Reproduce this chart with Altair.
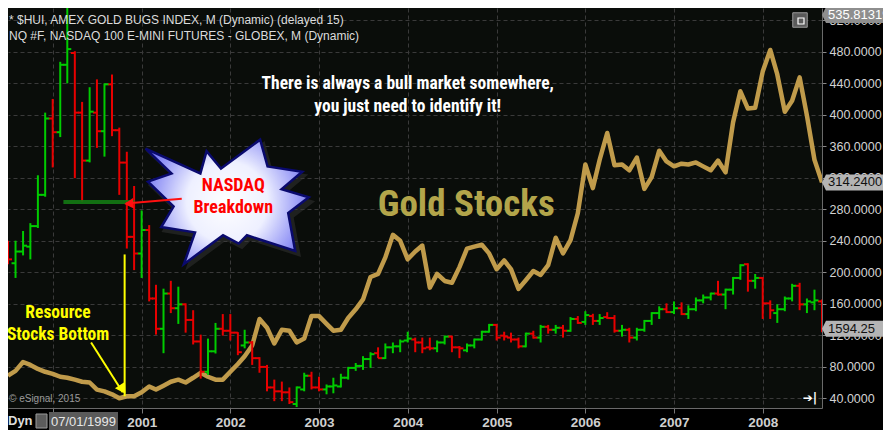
import altair as alt
import pandas as pd

# ---------------- data ----------------
START_MONTH = "1999-07-01"

# $HUI monthly closes, Jul 1999 .. Sep 2008
hui_close = [68.6, 74.8, 86.0, 82.3, 77.3, 73.6, 71.0, 67.3, 66.0, 63.6,
             61.0, 60.0, 51.0, 48.7, 45.0, 40.0, 42.5, 42.5, 47.5, 55.0,
             51.0, 56.0, 61.0, 63.6, 60.0, 66.0, 72.3, 67.3, 63.6, 63.6,
             73.6, 83.5, 93.4, 107.0, 140.7, 129.5, 109.6, 127.0, 125.8, 110.9,
             115.8, 144.4, 144.4, 134.5, 125.8, 127.0, 142.0, 153.0, 165.5, 194.0,
             198.0, 219.0, 247.6, 240.0, 216.5, 226.5, 234.0, 180.5, 198.0, 189.0,
             186.7, 206.6, 230.0, 232.7, 235.0, 224.0, 204.0, 215.0, 204.0, 179.0,
             190.0, 201.6, 196.6, 209.0, 243.9, 224.0, 241.0, 275.0, 337.0, 307.0,
             343.0, 377.0, 336.0, 337.0, 329.6, 345.8, 306.0, 321.0, 354.5, 340.8,
             334.6, 338.0, 337.0, 339.6, 334.6, 329.6, 342.0, 327.0, 390.5, 430.0,
             408.0, 409.0, 455.0, 482.5, 451.4, 404.0, 418.0, 447.7, 399.0, 343.0,
             314.24]

# NQ #F monthly OHLC, Jul 1999 .. Sep 2008
nq_open = [2412, 2254, 2372, 2421, 2628, 2943, 3712, 3574, 4253, 4372,
           3771, 3288, 3771, 3584, 4056, 3594, 3268, 2520, 2352, 2589,
           1899, 1594, 1949, 1801, 1840, 1683, 1466, 1161, 1367, 1594,
           1574, 1555, 1426, 1456, 1298, 1210, 1003, 964, 954, 836,
           983, 1121, 1003, 983, 1013, 1013, 1101, 1200, 1220, 1289,
           1348, 1298, 1407, 1417, 1476, 1486, 1456, 1407, 1397, 1456,
           1515, 1407, 1377, 1426, 1486, 1564, 1633, 1525, 1505, 1486,
           1417, 1545, 1505, 1614, 1584, 1604, 1574, 1693, 1663, 1722,
           1673, 1712, 1702, 1574, 1584, 1505, 1584, 1673, 1752, 1791,
           1762, 1801, 1742, 1791, 1880, 1909, 1949, 1939, 1988, 2106,
           2244, 2077, 2106, 1850, 1752, 1791, 1899, 2027, 1840, 1860,
           1870]
nq_high = [2481, 2481, 2579, 2658, 3140, 3771, 3909, 4283, 4825, 4390,
           3879, 4027, 4106, 4066, 4155, 3620, 3377, 3032, 2786, 2638,
           2037, 1998, 2077, 2018, 1850, 1781, 1535, 1495, 1653, 1742,
           1742, 1560, 1584, 1470, 1308, 1230, 1082, 1062, 1003, 1013,
           1151, 1161, 1111, 1033, 1101, 1141, 1210, 1249, 1318, 1358,
           1407, 1446, 1456, 1486, 1564, 1505, 1505, 1505, 1476, 1525,
           1525, 1420, 1446, 1495, 1574, 1643, 1643, 1564, 1555, 1505,
           1555, 1574, 1633, 1633, 1633, 1633, 1712, 1722, 1771, 1745,
           1742, 1761, 1732, 1633, 1604, 1604, 1683, 1761, 1820, 1850,
           1870, 1860, 1830, 1909, 1939, 1958, 2077, 1998, 2116, 2244,
           2254, 2146, 2115, 1880, 1840, 1919, 2047, 2057, 1899, 1988,
           1890]
nq_low = [2244, 2106, 2333, 2293, 2609, 2924, 3219, 3525, 4066, 3111,
          2874, 3270, 3416, 3328, 3534, 2943, 2402, 2185, 2106, 1870,
          1535, 1348, 1752, 1643, 1555, 1436, 1092, 1130, 1345, 1525,
          1476, 1328, 1397, 1230, 1151, 964, 865, 865, 836, 806,
          964, 983, 964, 934, 944, 1003, 1082, 1170, 1180, 1200,
          1298, 1290, 1348, 1358, 1456, 1358, 1348, 1377, 1358, 1436,
          1358, 1298, 1358, 1397, 1476, 1555, 1476, 1476, 1456, 1397,
          1407, 1495, 1456, 1545, 1545, 1505, 1564, 1643, 1633, 1633,
          1633, 1693, 1555, 1515, 1456, 1476, 1564, 1633, 1693, 1752,
          1742, 1732, 1693, 1771, 1850, 1880, 1929, 1791, 1939, 2087,
          1968, 1998, 1693, 1693, 1653, 1771, 1870, 1781, 1752, 1781,
          1560]
nq_close = [2293, 2372, 2431, 2628, 2943, 3712, 3574, 4253, 4411, 3771,
            3288, 3781, 3584, 4056, 3594, 3268, 2520, 2352, 2589, 1899,
            1594, 1949, 1801, 1840, 1683, 1466, 1161, 1367, 1594, 1574,
            1555, 1358, 1456, 1298, 1210, 1003, 964, 954, 855, 1003,
            1121, 1003, 983, 1013, 1023, 1101, 1200, 1220, 1289, 1338,
            1298, 1407, 1417, 1466, 1495, 1456, 1397, 1397, 1456, 1515,
            1407, 1397, 1426, 1486, 1564, 1633, 1505, 1515, 1486, 1417,
            1545, 1505, 1614, 1584, 1604, 1574, 1693, 1653, 1732, 1673,
            1702, 1702, 1574, 1584, 1505, 1584, 1673, 1752, 1791, 1762,
            1801, 1742, 1791, 1880, 1909, 1949, 1939, 1988, 2106, 2234,
            2077, 2106, 1850, 1780, 1791, 1899, 2027, 1840, 1870, 1880,
            1594.25]

hui_ticks = [40, 80, 120, 160, 200, 240, 280, 320, 360, 400, 440, 480, 520]
year_ticks = [2000, 2001, 2002, 2003, 2004, 2005, 2006, 2007, 2008]
hui_last = 314.24
hui_top_label = "535.81319"
nq_last = 1594.25
nq_support = 2870

header_lines = ["* $HUI, AMEX GOLD BUGS INDEX, M (Dynamic) (delayed 15)",
                "NQ #F, NASDAQ 100 E-MINI FUTURES - GLOBEX, M (Dynamic)"]

# annotations, positioned in data units (date, HUI value)
notes = pd.DataFrame([
    {"t": "There is always a bull market somewhere,", "d": "2004-01-01", "v": 439.0, "g": "quote"},
    {"t": "you just need to identify it!", "d": "2004-01-01", "v": 410.4, "g": "quote"},
    {"t": "NASDAQ", "d": "2002-01-13", "v": 309.7, "g": "nasdaq"},
    {"t": "Breakdown", "d": "2002-01-13", "v": 281.1, "g": "nasdaq"},
    {"t": "Resource", "d": "2000-01-23", "v": 148.1, "g": "bottom"},
    {"t": "Stocks Bottom", "d": "2000-01-23", "v": 120.8, "g": "bottom"},
    {"t": "Gold Stocks", "d": "2004-08-29", "v": 284.9, "g": "gold"},
])
arrows = pd.DataFrame([
    {"k": "red", "d1": "2001-06-15", "v1": 293.6, "d2": "2000-10-28", "v2": 287.3},
    {"k": "yv", "d1": "2000-10-23", "v1": 222.7, "d2": "2000-10-23", "v2": 42.5},
    {"k": "yd", "d1": "2000-06-07", "v1": 110.9, "d2": "2000-10-15", "v2": 47.5},
])
star_pos = pd.DataFrame([{"d": "2001-12-19", "v": 290.0}])
support = pd.DataFrame([{"d1": "2000-02-14", "d2": "2000-12-03", "v": nq_support}])

# ---------------- layout / style ----------------
W, H = 814, 400
GOLD = "#c09b4b"
GOLD_TEXT = "#b3a54a"
GREEN = "#00cc00"
RED = "#e80000"
NARROW = "Roboto Condensed, Liberation Sans Narrow, DejaVu Sans Condensed, sans-serif"
SANS = "Liberation Sans, Arial, sans-serif"

dates = pd.date_range(START_MONTH, periods=len(hui_close), freq="MS").strftime("%Y-%m-%d").tolist()
bars = pd.DataFrame({"date": dates, "hui": hui_close, "open": nq_open,
                     "high": nq_high, "low": nq_low, "close": nq_close})
bars["dir"] = ["up" if c >= o else "down" for o, c in zip(nq_open, nq_close)]


def dt(s):
    y, m, d = (int(p) for p in s.split("-"))
    return alt.DateTime(year=y, month=m, date=d, utc=True)


x_scale = alt.Scale(type="utc", domain=[dt("1999-07-01"), dt("2008-09-01")], nice=False)
gold_scale = alt.Scale(domain=[27.6, 535.8], nice=False, zero=False)
nq_scale = alt.Scale(domain=[796, 4825], nice=False, zero=False)

GRID = "#3a3a3a"
x_axis = alt.Axis(values=[dt(f"{y}-01-01") for y in year_ticks],
                  labelExpr="utcyear(datum.value) == 2000 ? '' : utcFormat(datum.value, '%Y')",
                  labelFont=SANS, labelFontWeight="bold", labelFontSize=13.5, labelColor="#cfcfcf",
                  tickColor="#777777", tickSize=5, domainColor="#6a6a6a", labelPadding=2,
                  grid=True, gridColor=GRID, gridDash=[4, 3], title=None, labelFlush=False)
y_axis = alt.Axis(orient="right", values=hui_ticks, format=".4f",
                  labelFont=SANS, labelFontSize=12.5, labelColor="#d2d2d2",
                  tickColor="#888888", tickSize=4, labelPadding=3, domainColor="#6a6a6a",
                  grid=True, gridColor=GRID, gridDash=[4, 3], title=None)


def X(f):
    return alt.X(f"{f}:T", scale=x_scale, axis=x_axis, title=None)


def YG(f, axis=None):
    return alt.Y(f"{f}:Q", scale=gold_scale, axis=axis, title=None)


def YN(f):
    return alt.Y(f"{f}:Q", scale=nq_scale, axis=None, title=None)


COLOR = alt.Color("dir:N", scale=alt.Scale(domain=["up", "down"], range=[GREEN, RED]), legend=None)

# ---------------- gold line ----------------
gold_line = alt.Chart(bars).mark_line(color=GOLD, strokeWidth=4.5, clip=True,
                                      strokeJoin="round").encode(
    x=X("date"), y=YG("hui", y_axis))

# ---------------- NQ OHLC bars ----------------
nqb = alt.Chart(bars)
hl = nqb.mark_rule(strokeWidth=2, clip=True).encode(x=X("date"), y=YN("low"), y2="high:Q", color=COLOR)
op = nqb.mark_rule(strokeWidth=2, clip=True, xOffset=-4).encode(
    x=X("date"), x2=alt.X2("date"), y=YN("open"), color=COLOR)
cl = nqb.mark_rule(strokeWidth=2, clip=True, x2Offset=4).encode(
    x=X("date"), x2=alt.X2("date"), y=YN("close"), color=COLOR)
sup = alt.Chart(support).mark_rule(color="#137a13", strokeWidth=4, opacity=0.9).encode(
    x=X("d1"), x2=alt.X2("d2"), y=YN("v"))

BOX = "M -1 0 L -0.875 -0.25 L 1 -0.25 L 1 0.25 L -0.875 0.25 Z"
nq_lab = pd.DataFrame([{"v": nq_last, "t": f"{nq_last:.2f}"}])
nq_box = alt.Chart(nq_lab).mark_point(shape=BOX, size=4096, filled=True, fill="#b4b4b4",
                                      strokeWidth=0, opacity=1).encode(x=alt.value(W + 32), y=YN("v"))
nq_txt = alt.Chart(nq_lab).mark_text(align="left", baseline="middle", font=SANS, fontSize=13,
                                     color="#111111").encode(x=alt.value(W + 6), y=YN("v"), text="t:N")
nq_group = alt.layer(hl, op, cl, sup, nq_box, nq_txt)

# ---------------- annotations in HUI units ----------------
hui_lab = pd.DataFrame([{"v": hui_last, "t": f"{hui_last:.4f}"}])
hui_box = alt.Chart(hui_lab).mark_point(shape=BOX, size=4096, filled=True, fill="#b4b4b4",
                                        strokeWidth=0, opacity=1).encode(x=alt.value(W + 32), y=YG("v"))
hui_txt = alt.Chart(hui_lab).mark_text(align="left", baseline="middle", font=SANS, fontSize=13,
                                       color="#111111").encode(x=alt.value(W + 6), y=YG("v"), text="t:N")

STAR = ("M -0.99 -0.64 L -0.325 -0.34 L -0.25 -0.61 L -0.075 -0.40 L 0.40 -0.75 "
        "L 0.49 -0.425 L 0.91 -0.36 L 0.66 -0.15 L 0.99 -0.05 L 0.74 0.14 L 0.825 0.60 "
        "L 0.24 0.41 L 0.14 0.51 L -0.05 0.41 L -0.525 0.76 L -0.39 0.375 L -0.80 0.31 "
        "L -0.65 0.06 L -0.96 -0.24 L -0.675 -0.34 Z")
star_fill = {"gradient": "radial", "x1": 0.5, "y1": 0.5, "r1": 0.0, "x2": 0.5, "y2": 0.5, "r2": 0.55,
             "stops": [{"offset": 0.0, "color": "#ffffff"}, {"offset": 0.45, "color": "#eef0ff"},
                       {"offset": 1.0, "color": "#6a6cf2"}]}
star_shadow = alt.Chart(star_pos).mark_point(shape=STAR, size=29500, filled=True, fill="#3a3a3a",
                                             strokeWidth=0, opacity=0.45, xOffset=3, yOffset=4).encode(
    x=X("d"), y=YG("v"))
star = alt.Chart(star_pos).mark_point(shape=STAR, size=27200, filled=True, fill=star_fill,
                                      stroke="#0a0a6e", strokeWidth=2.5, opacity=1).encode(
    x=X("d"), y=YG("v"))

arr = alt.Chart(arrows)
red_line = arr.transform_filter(alt.datum.k == "red").mark_rule(color="#ff1010", strokeWidth=2).encode(
    x=X("d1"), x2=alt.X2("d2"), y=YG("v1"), y2=alt.Y2("v2"))
red_head = arr.transform_filter(alt.datum.k == "red").mark_point(
    shape="triangle-left", size=110, filled=True, color="#ff1010", opacity=1, angle=355, xOffset=3).encode(
    x=X("d2"), y=YG("v2"))
yel_lines = arr.transform_filter(alt.datum.k != "red").mark_rule(color="#ffff00", strokeWidth=2).encode(
    x=X("d1"), x2=alt.X2("d2"), y=YG("v1"), y2=alt.Y2("v2"))
yel_head = arr.transform_filter(alt.datum.k == "yd").mark_point(
    shape="triangle-down", size=140, filled=True, color="#ffff00", opacity=1, angle=328, yOffset=-3).encode(
    x=X("d2"), y=YG("v2"))

nt = alt.Chart(notes)


def note_layer(group, size, color):
    return nt.transform_filter(alt.datum.g == group).mark_text(
        font=NARROW, fontWeight="bold", fontSize=size, color=color, align="center", baseline="middle"
    ).encode(x=X("d"), y=YG("v"), text="t:N")


ann_group = alt.layer(
    hui_box, hui_txt, star_shadow, star, red_line, red_head, yel_lines, yel_head,
    note_layer("quote", 17.5, "#ffffff"),
    note_layer("nasdaq", 18, "#ff0000"),
    note_layer("bottom", 17.5, "#ffff00"),
    note_layer("gold", 37, GOLD_TEXT),
)

# ---------------- screen furniture in pixel units ----------------
one = pd.DataFrame([{"t": ""}])
hdr = pd.DataFrame([{"t": header_lines[0], "yy": 12.0}, {"t": header_lines[1], "yy": 27.5}])
header = alt.Chart(hdr).mark_text(align="left", baseline="middle", font=SANS, fontSize=12,
                                  color="#dcdcdc").encode(x=alt.value(1), y=alt.Y("yy:Q", scale=None), text="t:N")
copyright_txt = alt.Chart(one).mark_text(align="left", baseline="middle", font=SANS, fontSize=10,
                                         color="#9a9a9a", text="\u00a9 eSignal, 2015").encode(
    x=alt.value(1), y=alt.value(391))
top_box = alt.Chart(one).mark_point(shape=BOX, size=4096, filled=True, fill="#8e8e8e", strokeWidth=0,
                                    opacity=1).encode(x=alt.value(W + 32), y=alt.value(7))
top_txt = alt.Chart(one).mark_text(align="left", baseline="middle", font=SANS, fontSize=13,
                                   color="#ffffff", text=hui_top_label).encode(x=alt.value(W + 6), y=alt.value(7))
win_icon = alt.Chart(one).mark_point(shape="square", size=210, filled=True, fill="#5a5a5a",
                                     stroke="#9a9a9a", strokeWidth=1, opacity=1).encode(
    x=alt.value(W - 22), y=alt.value(12))
win_icon2 = alt.Chart(one).mark_point(shape="square", size=36, filled=False, stroke="#ffffff",
                                      strokeWidth=1.2, opacity=1).encode(x=alt.value(W - 21), y=alt.value(13))
end_icon = alt.Chart(one).mark_text(align="center", baseline="middle", font="DejaVu Sans", fontSize=12,
                                    fontWeight="bold", color="#ffffff", text="\u2794|").encode(
    x=alt.value(W - 12), y=alt.value(390))
dyn = alt.Chart(one).mark_text(align="left", baseline="middle", font=SANS, fontSize=13, fontWeight="bold",
                               color="#dddddd", text="Dyn").encode(x=alt.value(0), y=alt.value(413))
lock = alt.Chart(one).mark_rect(fill="#5c5c5c", stroke="#9a9a9a", strokeWidth=1).encode(
    x=alt.value(28), x2=alt.value(39), y=alt.value(406), y2=alt.value(420))
date_box = alt.Chart(one).mark_rect(fill="#5a5a5a").encode(
    x=alt.value(41), x2=alt.value(110), y=alt.value(404), y2=alt.value(422))
date_txt = alt.Chart(one).mark_text(align="center", baseline="middle", font=SANS, fontSize=13,
                                    color="#e6e6e6", text="07/01/1999").encode(x=alt.value(75.5), y=alt.value(413.5))

pix_group = alt.layer(header, copyright_txt, top_box, top_txt, win_icon, win_icon2, end_icon,
                      dyn, lock, date_box, date_txt)

chart = alt.layer(gold_line, nq_group, ann_group, pix_group).resolve_scale(
    y="independent"
).properties(
    width=W, height=H, background="#000000",
    padding={"left": 0, "top": 0, "right": 61, "bottom": 22},
    autosize=alt.AutoSizeParams(type="none"),
).configure_view(fill="#0a0d0a", stroke=None)

chart.save("out.html", embed_options={"renderer": "svg", "actions": False})
